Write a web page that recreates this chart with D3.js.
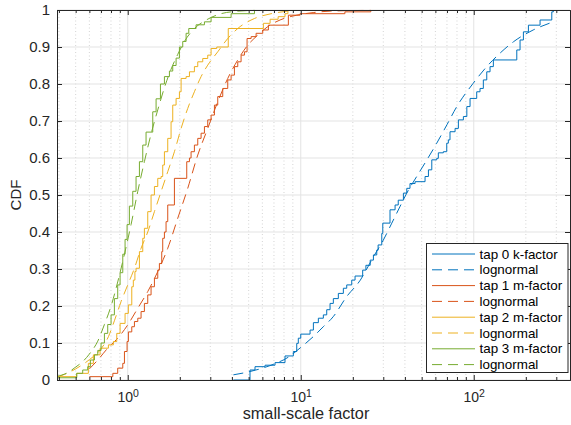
<!DOCTYPE html>
<html lang="en">
<head>
<meta charset="utf-8">
<title>small-scale factor CDF</title>
<script src="https://cdn.jsdelivr.net/npm/d3@7"></script>
<style>
  body { margin: 0; background: #fff; }
  svg { display: block; font-family: "Liberation Sans", Arial, Helvetica, sans-serif; }
  .axis path, .axis line { stroke: #262626; }
  .axis text { fill: #262626; }
</style>
</head>
<body>
<svg id="chart" width="571" height="425"></svg>
<script>
// ---- data: [value, CDF] ----
var tap0 = [[4.08,0],[5.09,0.027],[5.44,0.036],[6.22,0.04],[7.1,0.047],[8.11,0.065],[9.06,0.077],[9.48,0.099],
  [9.68,0.113],[10.0,0.124],[11.32,0.135],[11.83,0.155],[12.64,0.167],[13.51,0.176],[14.13,0.19],[14.77,0.207],
  [15.43,0.22],[16.49,0.234],[17.63,0.248],[18.44,0.257],[19.71,0.27],[20.6,0.281],[22.8,0.297],[23.8,0.31],
  [25.2,0.324],[26.3,0.338],[27.5,0.351],[28.0,0.365],[29.4,0.396],[29.8,0.424],[32.8,0.46],[35.1,0.473],
  [36.6,0.486],[39.2,0.505],[41.0,0.518],[42.8,0.531],[45.8,0.536],[52.3,0.55],[54.7,0.568],[57.2,0.595],
  [61.1,0.599],[62.4,0.614],[66.7,0.617],[69.8,0.64],[71.3,0.649],[72.9,0.671],[78.0,0.68],[81.5,0.703],
  [87.1,0.712],[91.2,0.739],[95.2,0.761],[104.0,0.779],[108.7,0.788],[113.6,0.811],[118.9,0.833],[124.2,0.847],
  [129.8,0.865],[177.3,0.892],[185.2,0.919],[193.6,0.941],[207.0,0.959],[241.7,0.973],[282.5,0.995],[288.5,1.0]];
var tap0Fit = [[4.08,0.014],[5,0.022],[6,0.032],[7,0.043],[8.5,0.062],[10,0.088],[11.8,0.117],[13.5,0.144],
  [15.4,0.171],[18.4,0.225],[22.1,0.27],[26.3,0.333],[30,0.378],[33.6,0.424],[37.4,0.468],[41,0.505],
  [46.8,0.55],[53.6,0.595],[61.1,0.64],[70,0.69],[79.8,0.739],[99.3,0.802],[118.9,0.847],[141.6,0.883],
  [169.5,0.914],[220.6,0.946],[288.5,0.968]];

var tap1 = [[0.60,0.009],[0.82,0.018],[0.875,0.032],[0.936,0.045],[0.957,0.077],[0.991,0.104],[1.009,0.13],
  [1.055,0.144],[1.093,0.158],[1.143,0.167],[1.194,0.185],[1.248,0.207],[1.305,0.23],[1.364,0.252],[1.426,0.275],
  [1.491,0.297],[1.524,0.315],[1.572,0.347],[1.593,0.383],[1.629,0.40],[1.665,0.428],[1.703,0.473],[1.861,0.545],
  [2.193,0.59],[2.273,0.60],[2.323,0.617],[2.428,0.635],[2.539,0.653],[2.654,0.667],[2.775,0.685],[2.9,0.703],
  [3.032,0.716],[3.17,0.743],[3.313,0.766],[3.541,0.788],[3.784,0.811],[3.957,0.824],[4.136,0.847],[4.324,0.86],
  [4.52,0.878],[4.725,0.887],[4.895,0.923],[5.165,0.928],[5.519,0.937],[6.031,0.946],[6.5,0.959],[8.48,0.986],
  [9.9,0.99],[18.0,0.995],[25.4,1.0]];
var tap1Fit = [[0.60,0.03],[0.671,0.054],[0.766,0.086],[0.875,0.113],[1.0,0.149],[1.143,0.194],[1.305,0.239],
  [1.491,0.293],[1.703,0.356],[1.945,0.437],[2.222,0.518],[2.539,0.608],[2.9,0.68],[3.313,0.752],[3.784,0.815],
  [4.324,0.865],[4.94,0.905],[5.64,0.932],[6.446,0.955],[7.59,0.973],[9.48,0.986],[11.8,0.993],[14.8,0.997],[25.4,0.999]];

var tap2 = [[0.39,0.009],[0.507,0.018],[0.592,0.045],[0.633,0.068],[0.692,0.086],[0.773,0.095],[0.826,0.104],
  [0.864,0.126],[0.903,0.153],[0.965,0.18],[1.008,0.203],[1.055,0.252],[1.077,0.27],[1.10,0.293],[1.117,0.302],
  [1.168,0.347],[1.221,0.383],[1.248,0.41],[1.305,0.455],[1.364,0.50],[1.426,0.523],[1.491,0.545],[1.558,0.55],
  [1.593,0.581],[1.629,0.617],[1.703,0.653],[1.78,0.698],[1.82,0.743],[1.903,0.761],[1.989,0.779],[2.034,0.815],
  [2.174,0.82],[2.273,0.833],[2.428,0.847],[2.539,0.86],[2.713,0.869],[2.9,0.878],[3.032,0.896],[3.27,0.90],
  [3.81,0.95],[6.08,0.964],[6.65,0.975],[7.4,0.982],[8.11,0.99],[8.43,1.0]];
var tap2Fit = [[0.39,0.008],[0.43,0.015],[0.50,0.03],[0.60,0.055],[0.692,0.081],[0.773,0.117],[0.837,0.16],
  [0.915,0.212],[1.0,0.257],[1.093,0.302],[1.194,0.356],[1.305,0.40],[1.426,0.455],[1.558,0.509],[1.703,0.563],
  [1.861,0.617],[2.034,0.68],[2.222,0.734],[2.428,0.779],[2.654,0.82],[2.9,0.851],[3.313,0.887],[3.784,0.923],
  [4.324,0.95],[5.398,0.977],[6.74,0.99],[8.43,0.997]];

var tap3 = [[0.39,0.006],[0.507,0.018],[0.549,0.027],[0.587,0.036],[0.608,0.054],[0.642,0.068],[0.671,0.08],
  [0.701,0.10],[0.733,0.126],[0.766,0.15],[0.801,0.176],[0.837,0.22],[0.875,0.257],[0.903,0.29],[0.936,0.34],
  [0.965,0.38],[0.991,0.42],[1.022,0.47],[1.069,0.51],[1.117,0.55],[1.168,0.59],[1.221,0.635],[1.276,0.67],
  [1.395,0.725],[1.458,0.76],[1.545,0.80],[1.629,0.82],[1.741,0.835],[1.82,0.85],[1.903,0.87],[1.989,0.90],
  [2.079,0.915],[2.174,0.937],[2.253,0.95],[2.483,0.96],[2.775,0.968],[3.032,0.98],[3.957,0.99],[5.4,1.0]];
var tap3Fit = [[0.39,0.01],[0.45,0.02],[0.50,0.035],[0.55,0.05],[0.60,0.07],[0.671,0.105],[0.733,0.15],
  [0.801,0.2],[0.875,0.265],[0.957,0.34],[1.045,0.42],[1.143,0.51],[1.248,0.59],[1.364,0.665],[1.491,0.73],
  [1.629,0.79],[1.78,0.84],[1.945,0.88],[2.126,0.915],[2.428,0.95],[2.775,0.97],[3.46,0.99],[4.136,0.996],[5.4,0.999]];

var legendLabels = ['tap 0 k-factor', 'lognormal', 'tap 1 m-factor', 'lognormal',
                    'tap 2 m-factor', 'lognormal', 'tap 3 m-factor', 'lognormal'];
var xMajor = [1, 10, 100];
var xMinor = [0.4, 0.5, 0.6, 0.7, 0.8, 0.9, 2, 3, 4, 5, 6, 7, 8, 9, 20, 30, 40, 50, 60, 70, 80, 90, 200, 300];
var yTicks = [0, 0.1, 0.2, 0.3, 0.4, 0.5, 0.6, 0.7, 0.8, 0.9, 1];

// ---- layout ----
var padL = 57, padR = 570, padT = 10, padB = 380;
var colors = ['#0072BD', '#D95319', '#EDB120', '#77AC30'];

var svg = d3.select('#chart');
var x = d3.scaleLog().domain([0.39, 360]).range([padL, padR]);
var y = d3.scaleLinear().domain([0, 1]).range([padB, padT]);

// grid
var grid = svg.append('g');
grid.selectAll('.minor').data(xMinor).enter().append('line')
    .attr('x1', d => x(d)).attr('x2', d => x(d)).attr('y1', padT).attr('y2', padB)
    .attr('stroke', '#d4d4d4').attr('stroke-dasharray', '1,2.5');
grid.selectAll('.major').data(xMajor).enter().append('line')
    .attr('x1', d => x(d)).attr('x2', d => x(d)).attr('y1', padT).attr('y2', padB)
    .attr('stroke', '#e3e3e3');
grid.selectAll('.ymajor').data(yTicks).enter().append('line')
    .attr('x1', padL).attr('x2', padR).attr('y1', d => y(d)).attr('y2', d => y(d))
    .attr('stroke', '#e3e3e3');

// curves
svg.append('clipPath').attr('id', 'clip').append('rect')
    .attr('x', padL).attr('y', padT - 1).attr('width', padR - padL).attr('height', padB - padT + 1);
var plot = svg.append('g').attr('clip-path', 'url(#clip)');

var stair = d3.line().x(d => x(d[0])).y(d => y(d[1])).curve(d3.curveStepAfter);
var smooth = d3.line().x(d => x(d[0])).y(d => y(d[1])).curve(d3.curveMonotoneX);

var series = [
  {data: tap0, fit: false, c: 0}, {data: tap0Fit, fit: true, c: 0},
  {data: tap1, fit: false, c: 1}, {data: tap1Fit, fit: true, c: 1},
  {data: tap2, fit: false, c: 2}, {data: tap2Fit, fit: true, c: 2},
  {data: tap3, fit: false, c: 3}, {data: tap3Fit, fit: true, c: 3}
];
series.forEach(function(s) {
    plot.append('path')
        .attr('d', s.fit ? smooth(s.data) : stair(s.data))
        .attr('fill', 'none')
        .attr('stroke', colors[s.c])
        .attr('stroke-width', 1)
        .attr('stroke-dasharray', s.fit ? '10,6' : null);
});

// axes (ticks point inward like matlab)
function supTicks(g) {
    g.selectAll('.tick text').each(function(d) {
        var t = d3.select(this);
        t.text('10');
        t.append('tspan').attr('dy', '-0.5em').attr('font-size', '10.5px').text(Math.round(Math.log10(d)));
    });
}
var xb = svg.append('g').attr('class', 'axis').attr('transform', 'translate(0,' + padB + ')')
    .call(d3.axisBottom(x).tickValues(xMajor).tickSize(-5).tickPadding(12).tickFormat(d => d))
    .call(supTicks);
svg.append('g').attr('class', 'axis').attr('transform', 'translate(0,' + padB + ')')
    .call(d3.axisBottom(x).tickValues(xMinor).tickSize(-3).tickFormat(''))
    .call(g => g.select('.domain').remove());
svg.append('g').attr('class', 'axis').attr('transform', 'translate(0,' + padT + ')')
    .call(d3.axisTop(x).tickValues(xMajor).tickSize(-5).tickFormat(''));
svg.append('g').attr('class', 'axis').attr('transform', 'translate(0,' + padT + ')')
    .call(d3.axisTop(x).tickValues(xMinor).tickSize(-3).tickFormat(''))
    .call(g => g.select('.domain').remove());
svg.append('g').attr('class', 'axis').attr('transform', 'translate(' + padL + ',0)')
    .call(d3.axisLeft(y).tickValues(yTicks).tickSize(-5).tickPadding(7).tickFormat(d3.format('')));
svg.append('g').attr('class', 'axis').attr('transform', 'translate(' + padR + ',0)')
    .call(d3.axisRight(y).tickValues(yTicks).tickSize(-5).tickFormat(''));
svg.selectAll('.axis path.domain').attr('stroke-width', 1);
svg.selectAll('.axis .tick text').attr('font-size', '15px');
xb.selectAll('.tick text').attr('font-size', '14px');
svg.selectAll('.axis').attr('font-family', null);

// labels
svg.append('text').attr('x', 306).attr('y', 419).attr('text-anchor', 'middle')
    .attr('font-size', '16.3px').attr('fill', '#262626').text('small-scale factor');
svg.append('text').attr('transform', 'translate(21,195) rotate(-90)').attr('text-anchor', 'middle')
    .attr('font-size', '15px').attr('fill', '#262626').text('CDF');

// legend
var lg = svg.append('g').attr('transform', 'translate(426.5,243.5)');
lg.append('rect').attr('width', 141.5).attr('height', 129).attr('fill', '#fff').attr('stroke', '#262626');
legendLabels.forEach(function(lab, i) {
    var s = series[i], yy = 10.5 + i * 15.8;
    lg.append('line').attr('x1', 5.5).attr('x2', 48.5).attr('y1', yy).attr('y2', yy)
        .attr('stroke', colors[s.c]).attr('stroke-dasharray', s.fit ? '10,6' : null);
    lg.append('text').attr('x', 53).attr('y', yy).attr('dy', '0.35em')
        .attr('font-size', '13.4px').attr('fill', '#000').text(lab);
});
</script>
</body>
</html>
